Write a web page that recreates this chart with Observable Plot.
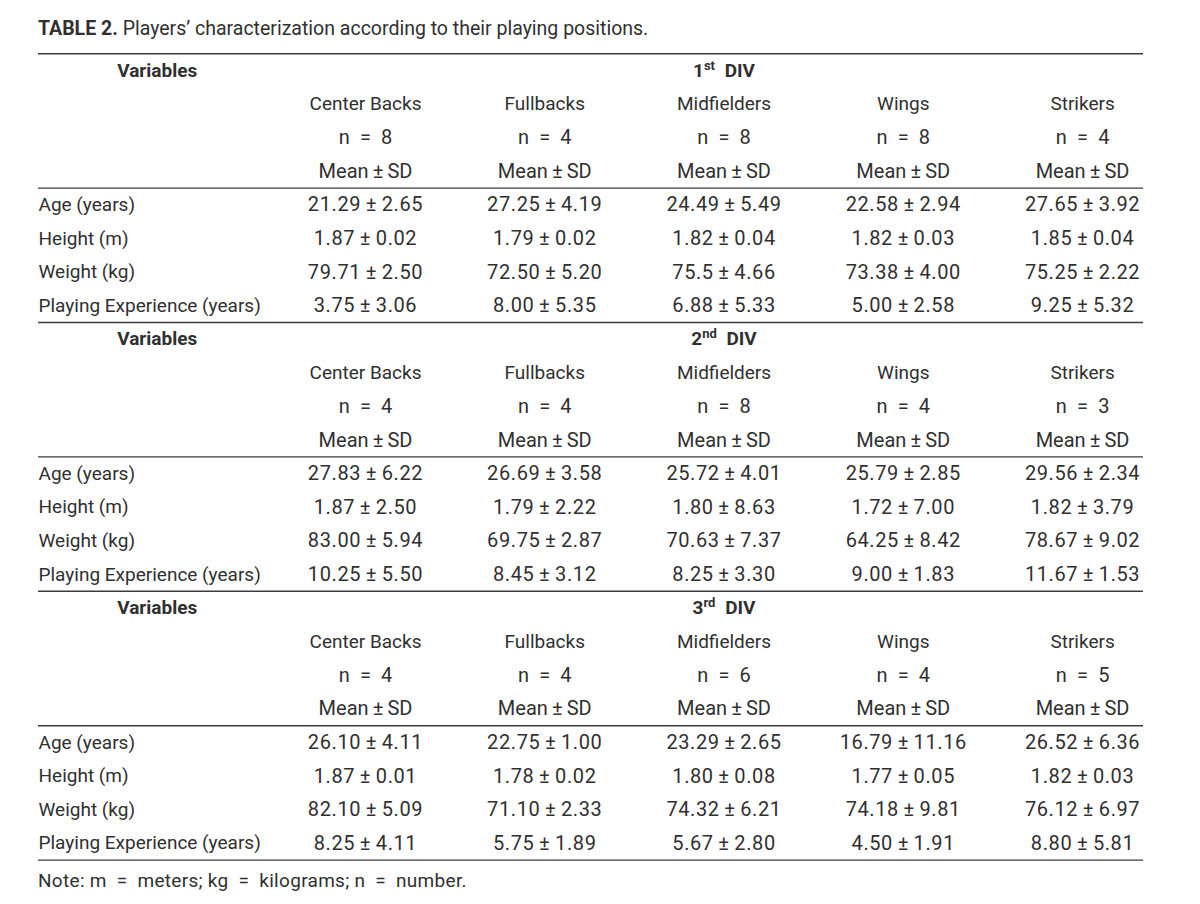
<!DOCTYPE html>
<html><head><meta charset="utf-8">
<script src="https://cdn.jsdelivr.net/npm/d3@7"></script>
<script src="https://cdn.jsdelivr.net/npm/@observablehq/plot@0.6"></script>
<style>
body{margin:0;background:#fff;font-family:Roboto,sans-serif;color:#303030}
#title{padding:18px 0 0 38px;height:22px;line-height:22px;font-size:19.5px}
#note{padding-left:38px;line-height:22px;font-size:19px;letter-spacing:0.3px}
</style></head><body>
<div id="title"><b>TABLE 2.</b> Players’ characterization according to their playing positions.</div>
<div id="chart"></div>
<div id="note">Note: m&ensp;=&ensp;meters; kg&ensp;=&ensp;kilograms; n&ensp;=&ensp;number.</div>
<script>
const divisions = ["1st", "2nd", "3rd"];
const positions = ["Center Backs", "Fullbacks", "Midfielders", "Wings", "Strikers"];
const variables = ["Age (years)", "Height (m)", "Weight (kg)", "Playing Experience (years)"];
const nPlayers = [[8, 4, 8, 8, 4], [4, 4, 8, 4, 3], [4, 4, 6, 4, 5]];

const means1 = [
  ["21.29", "27.25", "24.49", "22.58", "27.65"],
  ["1.87", "1.79", "1.82", "1.82", "1.85"],
  ["79.71", "72.50", "75.5", "73.38", "75.25"],
  ["3.75", "8.00", "6.88", "5.00", "9.25"]
];
const sds1 = [
  ["2.65", "4.19", "5.49", "2.94", "3.92"],
  ["0.02", "0.02", "0.04", "0.03", "0.04"],
  ["2.50", "5.20", "4.66", "4.00", "2.22"],
  ["3.06", "5.35", "5.33", "2.58", "5.32"]
];
const means2 = [
  ["27.83", "26.69", "25.72", "25.79", "29.56"],
  ["1.87", "1.79", "1.80", "1.72", "1.82"],
  ["83.00", "69.75", "70.63", "64.25", "78.67"],
  ["10.25", "8.45", "8.25", "9.00", "11.67"]
];
const sds2 = [
  ["6.22", "3.58", "4.01", "2.85", "2.34"],
  ["2.50", "2.22", "8.63", "7.00", "3.79"],
  ["5.94", "2.87", "7.37", "8.42", "9.02"],
  ["5.50", "3.12", "3.30", "1.83", "1.53"]
];
const means3 = [
  ["26.10", "22.75", "23.29", "16.79", "26.52"],
  ["1.87", "1.78", "1.80", "1.77", "1.82"],
  ["82.10", "71.10", "74.32", "74.18", "76.12"],
  ["8.25", "5.75", "5.67", "4.50", "8.80"]
];
const sds3 = [
  ["4.11", "1.00", "2.65", "11.16", "6.36"],
  ["0.01", "0.02", "0.08", "0.05", "0.03"],
  ["5.09", "2.33", "6.21", "9.81", "6.97"],
  ["4.11", "1.89", "2.80", "1.91", "5.81"]
];
const allMeans = [means1, means2, means3];
const allSds = [sds1, sds2, sds3];

const pm = "\u2009±\u2009";
const ROWS = 8; // rows per division block

const boldCells = [], posCells = [], headCells = [], labelCells = [], valueCells = [];
divisions.forEach((d, b) => {
  const r0 = b * ROWS;
  boldCells.push({col: 0, row: r0, text: "Variables", kind: "var"});
  boldCells.push({col: 3, row: r0, text: d + " DIV", kind: "div"});
  positions.forEach((p, i) => {
    posCells.push({col: i + 1, row: r0 + 1, text: p});
    headCells.push({col: i + 1, row: r0 + 2, text: "n\u2002=\u2002" + nPlayers[b][i]});
    headCells.push({col: i + 1, row: r0 + 3, text: "Mean" + pm + "SD"});
  });
  variables.forEach((v, k) => {
    labelCells.push({row: r0 + 4 + k, text: v});
    positions.forEach((p, i) => {
      valueCells.push({col: i + 1, row: r0 + 4 + k, text: allMeans[b][k][i] + pm + allSds[b][k][i]});
    });
  });
});
const ruleRows = [-0.5];
divisions.forEach((d, b) => { ruleRows.push(b * ROWS + 3.5, b * ROWS + 7.5); });

const ink = "#303030";
const plot = Plot.plot({
  width: 1200,
  height: 830,
  marginLeft: 38,
  marginRight: 57,
  marginTop: 30,
  marginBottom: 27.2,
  x: {type: "linear", domain: [-0.824, 5.34], axis: null},
  y: {type: "linear", domain: [0, 23], reverse: true, axis: null},
  style: {fontFamily: "Roboto, sans-serif", color: ink, background: "#fff"},
  marks: [
    Plot.ruleY(ruleRows, {y: d => d, stroke: "#3c3c3c", strokeWidth: 1.4}),
    Plot.text(boldCells.filter(d => d.kind === "var"), {x: "col", y: "row", text: "text", dx: -29, fontWeight: "bold", fontSize: 19, fill: ink}),
    Plot.text(boldCells.filter(d => d.kind === "div"), {x: "col", y: "row", text: "text", fontWeight: "bold", fontSize: 19, fill: ink}),
    Plot.text(posCells, {x: "col", y: "row", text: "text", fontSize: 19, fill: ink}),
    Plot.text(headCells, {x: "col", y: "row", text: "text", fontSize: 20, fill: ink}),
    Plot.text(labelCells, {y: "row", text: "text", frameAnchor: "left", textAnchor: "start", fontSize: 19, fill: ink}),
    Plot.text(valueCells, {x: "col", y: "row", text: "text", fontSize: 20, fill: ink, className: "vals"})
  ]
});
d3.select(plot).selectAll(".vals text").style("letter-spacing", "0.6px");
d3.select(plot).selectAll("text").each(function() {
  const m = /^(\d)(st|nd|rd) DIV$/.exec(this.textContent);
  if (!m) return;
  const t = d3.select(this);
  t.text(null);
  t.append("tspan").text(m[1]);
  t.append("tspan").attr("dy", -7).attr("font-size", 13).text(m[2]);
  t.append("tspan").attr("dy", 7).text("\u2002DIV");
});
document.getElementById("chart").appendChild(plot);
</script>
</body></html>
